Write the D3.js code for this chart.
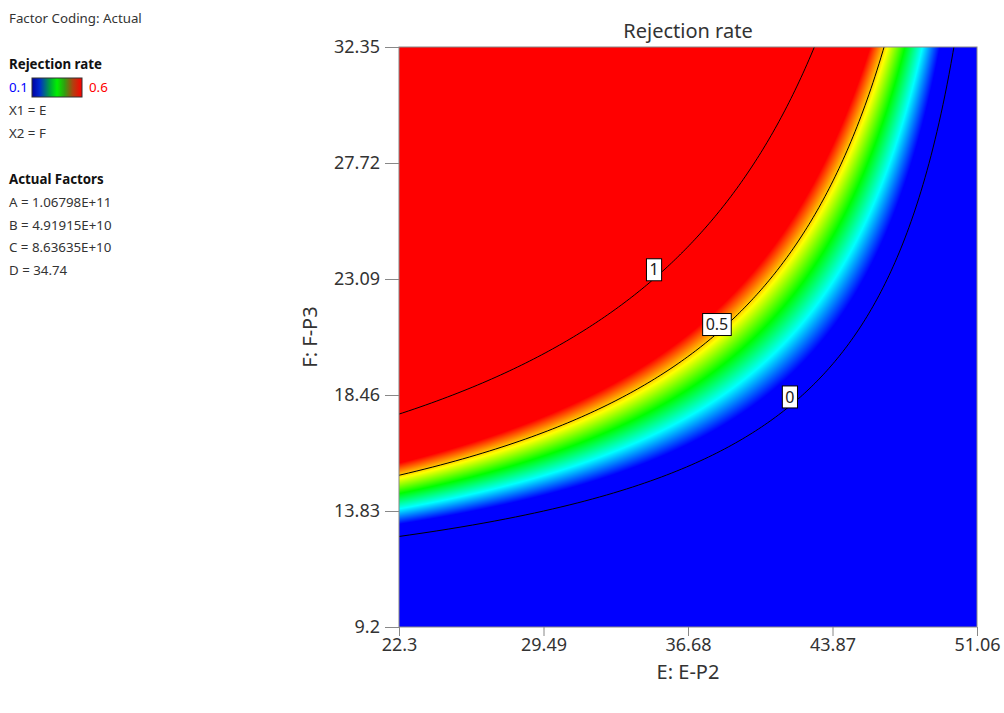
<!DOCTYPE html>
<html lang="en">
<head>
<meta charset="UTF-8">
<title>Rejection rate</title>
<script src="https://d3js.org/d3.v7.min.js"></script>
<style>
  body { margin: 0; background: #fff; font-family: "Noto Sans", "Open Sans", sans-serif; }
  svg text { font-family: "Noto Sans", "Open Sans", sans-serif; }
  .axis text { font-size: 18px; fill: #333; }
  .axis line, .axis path { stroke: #888; }
  .legend text { font-size: 13.3px; fill: #333; }
  .legend .head { font-weight: bold; fill: #111; }
  .axis-title { font-size: 20px; fill: #333; text-anchor: middle; }
  .clabel text { font-size: 16px; fill: #222; text-anchor: middle; }
</style>
</head>
<body>
<svg id="chart"></svg>
<script>
// tick labels, actual units
const eTicks = [22.3, 29.49, 36.68, 43.87, 51.06];
const fTicks = [9.2, 13.83, 18.46, 23.09, 27.72, 32.35];

// contour levels and where along E their labels sit
const contourLevels = [0, 0.5, 1];
const contourLabels = ["0", "0.5", "1"];
const labelAtE = [41.75, 38.12, 34.99];

// fitted surface, E and F coded 0..1 over the plotted range
const modelTerms = ["1", "E", "F", "E*F", "E^2", "F^2"];
const modelCoefs = [-0.74, 0, 4.74, -4.2, 0.035, 0];

// colour ramp of the response
const colorDomain = [0.1, 0.225, 0.35, 0.475, 0.6];
const colorRange = ["#0000ff", "#00ffff", "#00ff00", "#ffff00", "#ff0000"];

// left legend
const factorLines = ["X1 = E", "X2 = F"];
const actualFactors = ["A = 1.06798E+11", "B = 4.91915E+10", "C = 8.63635E+10", "D = 34.74"];

const width = 1004, height = 713;
const plot = { left: 399, right: 977, top: 47, bottom: 627 };
const eDomain = [eTicks[0], eTicks[eTicks.length - 1]];
const fDomain = [fTicks[0], fTicks[fTicks.length - 1]];

const svg = d3.select("#chart").attr("width", width).attr("height", height);

const x = d3.scaleLinear().domain(eDomain).range([plot.left, plot.right]);
const y = d3.scaleLinear().domain(fDomain).range([plot.bottom, plot.top]);
const color = d3.scaleLinear().domain(colorDomain).range(colorRange).clamp(true);

function response(e, f) {
  const u = (e - eDomain[0]) / (eDomain[1] - eDomain[0]);
  const v = (f - fDomain[0]) / (fDomain[1] - fDomain[0]);
  const t = [1, u, v, u * v, u * u, v * v];
  return d3.sum(t, (d, i) => d * modelCoefs[i]);
}

// colour field, one canvas pixel per screen pixel
const pw = plot.right - plot.left, ph = plot.bottom - plot.top;
const canvas = document.createElement("canvas");
canvas.width = pw; canvas.height = ph;
const ctx = canvas.getContext("2d");
const img = ctx.createImageData(pw, ph);
for (let j = 0; j < ph; j++) {
  const f = y.invert(plot.top + j + 0.5);
  for (let i = 0; i < pw; i++) {
    const c = d3.rgb(color(response(x.invert(plot.left + i + 0.5), f)));
    const k = (j * pw + i) * 4;
    img.data[k] = c.r; img.data[k + 1] = c.g; img.data[k + 2] = c.b; img.data[k + 3] = 255;
  }
}
ctx.putImageData(img, 0, 0);

svg.append("defs").append("clipPath").attr("id", "plot-clip")
  .append("rect")
  .attr("x", plot.left).attr("y", plot.top).attr("width", pw).attr("height", ph);

svg.append("image")
  .attr("x", plot.left).attr("y", plot.top)
  .attr("width", pw).attr("height", ph)
  .attr("preserveAspectRatio", "none")
  .attr("href", canvas.toDataURL());

// contour lines: grid padded past the plot so the polygon edges fall outside the clip
const step = 2, pad = 6;
const ox = plot.left - pad, oy = plot.top - pad;
const nx = Math.ceil((pw + 2 * pad) / step) + 1;
const ny = Math.ceil((ph + 2 * pad) / step) + 1;
const values = new Array(nx * ny);
for (let j = 0; j < ny; j++) {
  for (let i = 0; i < nx; i++) {
    values[j * nx + i] = response(x.invert(ox + i * step), y.invert(oy + j * step));
  }
}
const contours = d3.contours().size([nx, ny]).thresholds(contourLevels)(values);
const toScreen = d3.geoTransform({
  point(cx, cy) { this.stream.point(ox + (cx - 0.5) * step, oy + (cy - 0.5) * step); }
});
svg.append("g").attr("clip-path", "url(#plot-clip)")
  .selectAll("path")
  .data(contours)
  .join("path")
  .attr("d", d3.geoPath(toScreen))
  .attr("fill", "none")
  .attr("stroke", "#000")
  .attr("stroke-width", 1);

// plot frame
svg.append("rect")
  .attr("x", plot.left).attr("y", plot.top).attr("width", pw).attr("height", ph)
  .attr("fill", "none").attr("stroke", "#888");

// axes
svg.append("g")
  .attr("class", "axis")
  .attr("transform", `translate(0,${plot.bottom})`)
  .call(d3.axisBottom(x).tickValues(eTicks).tickFormat(String).tickSize(9).tickSizeOuter(0).tickPadding(2))
  .call(g => g.select(".domain").remove());

svg.append("g")
  .attr("class", "axis")
  .attr("transform", `translate(${plot.left},0)`)
  .call(d3.axisLeft(y).tickValues(fTicks).tickFormat(String).tickSize(14).tickSizeOuter(0).tickPadding(5))
  .call(g => g.select(".domain").remove());

svg.selectAll(".axis text").attr("font-size", 18);

// titles
svg.append("text").attr("class", "axis-title")
  .attr("x", (plot.left + plot.right) / 2).attr("y", 38)
  .text("Rejection rate");
svg.append("text").attr("class", "axis-title")
  .attr("x", (plot.left + plot.right) / 2).attr("y", 679)
  .text("E: E-P2");
svg.append("text").attr("class", "axis-title")
  .attr("transform", `translate(317,${(plot.top + plot.bottom) / 2}) rotate(-90)`)
  .text("F: F-P3");

// contour labels
function solveF(e, level) {
  let lo = fDomain[0], hi = fDomain[1];
  for (let k = 0; k < 40; k++) {
    const mid = (lo + hi) / 2;
    if (response(e, mid) < level) lo = mid; else hi = mid;
  }
  return (lo + hi) / 2;
}
const lbl = svg.append("g").attr("class", "clabel")
  .selectAll("g")
  .data(contourLevels)
  .join("g")
  .attr("transform", (d, i) => `translate(${x(labelAtE[i])},${y(solveF(labelAtE[i], d)) - 9})`);
lbl.append("rect")
  .attr("fill", "#fff").attr("stroke", "#000").attr("stroke-width", 1);
lbl.append("text")
  .attr("dy", "0.35em")
  .text((d, i) => contourLabels[i]);
lbl.each(function () {
  const g = d3.select(this);
  const w = g.select("text").node().getComputedTextLength() + 6;
  g.select("rect").attr("x", -w / 2).attr("y", -11).attr("width", w).attr("height", 22);
});

// left legend
const legend = svg.append("g").attr("class", "legend");
legend.append("text").attr("x", 9).attr("y", 23).text("Factor Coding: Actual");
legend.append("text").attr("class", "head").attr("x", 9).attr("y", 69).text("Rejection rate");

const grad = svg.select("defs").append("linearGradient").attr("id", "bar-grad");
const barStops = [
  [0, "#0000a0"], [0.15, "#0028d0"], [0.35, "#00a040"], [0.5, "#00f000"],
  [0.65, "#30a010"], [0.82, "#b04010"], [1, "#ff0000"]
];
grad.selectAll("stop").data(barStops).join("stop")
  .attr("offset", d => d[0]).attr("stop-color", d => d[1]);
legend.append("rect")
  .attr("x", 32).attr("y", 78).attr("width", 50).attr("height", 19)
  .attr("fill", "url(#bar-grad)").attr("stroke", "#333");
legend.append("text").attr("x", 9).attr("y", 92).style("fill", "#0000ff").text(colorDomain[0]);
legend.append("text").attr("x", 89).attr("y", 92).style("fill", "#ff0000").text(colorDomain[colorDomain.length - 1]);

legend.selectAll(".xf").data(factorLines).join("text")
  .attr("class", "xf").attr("x", 9).attr("y", (d, i) => 115 + i * 22.7).text(d => d);

legend.append("text").attr("class", "head").attr("x", 9).attr("y", 184).text("Actual Factors");
legend.selectAll(".af").data(actualFactors).join("text")
  .attr("class", "af").attr("x", 9).attr("y", (d, i) => 207 + i * 22.7).text(d => d);
</script>
</body>
</html>
